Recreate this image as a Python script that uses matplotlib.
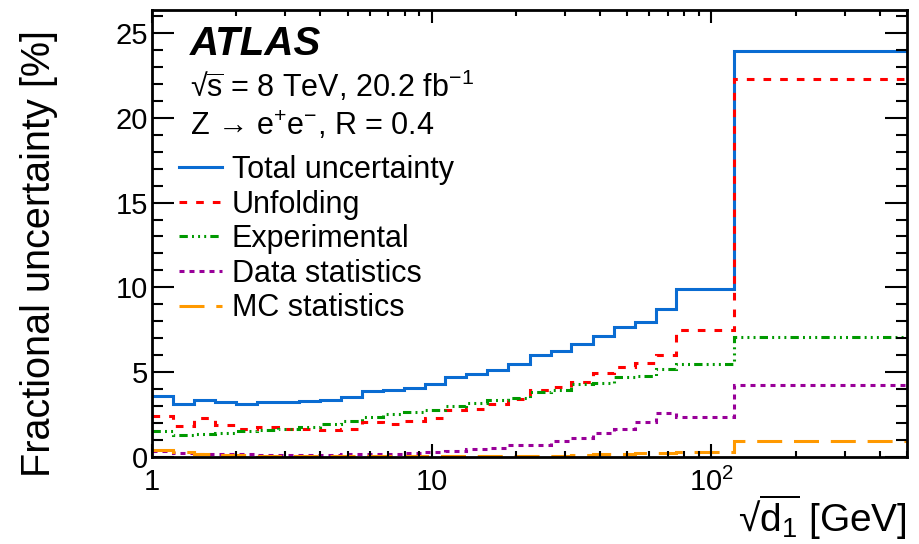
import numpy as np
import matplotlib
matplotlib.use('Agg')
import matplotlib.pyplot as plt
from matplotlib.ticker import FixedLocator, FixedFormatter, LogLocator, NullFormatter, MultipleLocator

plt.rcParams['font.family'] = ['Liberation Sans', 'DejaVu Sans']
plt.rcParams['mathtext.fontset'] = 'custom'
plt.rcParams['mathtext.rm'] = 'Liberation Sans'
plt.rcParams['mathtext.it'] = 'Liberation Sans:italic'
plt.rcParams['mathtext.bf'] = 'Liberation Sans:bold'
plt.rcParams['lines.scale_dashes'] = False

#%% data (bin edges in GeV, uncertainties in %)
edges = [1.0, 1.19, 1.41, 1.68, 2.0, 2.37, 2.82, 3.35, 3.98, 4.73, 5.62, 6.68, 7.94, 9.44,
         11.2, 13.3, 15.8, 18.8, 22.4, 26.6, 31.6, 37.6, 44.7, 53.1, 63.1, 75.0, 120.0, 500.0]
total = [3.59, 3.14, 3.39, 3.24, 3.10, 3.24, 3.26, 3.30, 3.35, 3.51, 3.87, 3.93, 4.08, 4.32,
         4.73, 4.91, 5.15, 5.50, 6.03, 6.25, 6.68, 7.13, 7.66, 7.96, 8.71, 9.89, 23.94]
unfolding = [2.41, 1.82, 2.29, 1.90, 1.66, 1.76, 1.66, 1.66, 1.62, 1.66, 2.09, 1.93, 2.10, 2.32,
             2.76, 2.84, 3.10, 3.43, 3.94, 4.12, 4.40, 4.93, 5.32, 5.56, 6.03, 7.49, 22.28]
experimental = [1.56, 1.27, 1.37, 1.43, 1.52, 1.61, 1.66, 1.76, 1.94, 2.14, 2.33, 2.55, 2.64, 2.80,
                3.03, 3.20, 3.34, 3.49, 3.83, 3.97, 4.28, 4.37, 4.71, 4.79, 5.18, 5.48, 7.07]
data_stat = [0.34, 0.25, 0.20, 0.17, 0.15, 0.14, 0.13, 0.13, 0.14, 0.15, 0.17, 0.20, 0.24, 0.29,
             0.38, 0.48, 0.54, 0.68, 0.72, 0.93, 1.13, 1.40, 1.65, 2.05, 2.61, 2.35, 4.26]
mc_stat = [0.42, 0.30, 0.15, 0.12, 0.10, 0.08, 0.07, 0.07, 0.06, 0.06, 0.05, 0.05, 0.05, 0.05,
           0.05, 0.05, 0.05, 0.06, 0.06, 0.08, 0.12, 0.15, 0.18, 0.22, 0.26, 0.28, 0.97]

labels = ['Total uncertainty', 'Unfolding', 'Experimental', 'Data statistics', 'MC statistics']
colors = ['#0a6cd2', '#ff0000', '#009900', '#990099', '#ff9900']
styles = ['-', (0, (5.5, 6.5)), (0, (6, 3, 1.4, 3, 1.4, 3, 1.4, 3)), (0, (3.6, 3.6)), (0, (18, 8.5))]

#%% plot
fig = plt.figure(figsize=(9.19, 5.44), dpi=100)
ax = fig.add_axes([0.1654, 0.1599, 0.8215, 0.8217])

handles = []
for vals, c, ls, lab in zip([total, unfolding, experimental, data_stat, mc_stat], colors, styles, labels):
    h = ax.stairs(vals, edges, baseline=None, color=c, linestyle=ls, lw=2.2, label=lab)
    handles.append(h)

ax.set_xscale('log')
ax.set_xlim(1, 500)
ax.set_ylim(0, 26.35)

### ticks in ROOT / ATLAS style
ax.xaxis.set_major_locator(FixedLocator([1, 10, 100]))
ax.xaxis.set_major_formatter(FixedFormatter(['1', '10', '$10^{2}$']))
ax.xaxis.set_minor_locator(LogLocator(base=10, subs=np.arange(2, 10)))
ax.xaxis.set_minor_formatter(NullFormatter())
ax.yaxis.set_major_locator(MultipleLocator(5))
ax.yaxis.set_minor_locator(MultipleLocator(1))
ax.tick_params(which='both', direction='in', top=True, right=True, labelsize=21, width=1.5)
ax.tick_params(axis='x', which='major', length=9.5, pad=8)
ax.tick_params(axis='x', which='minor', length=4.5)
ax.tick_params(axis='y', which='major', length=16, pad=3)
ax.tick_params(axis='y', which='minor', length=8)
for sp in ax.spines.values():
    sp.set_linewidth(2)

### labels
fig.text(0.0424, 1 - 30/544, 'Fractional uncertainty [%]', rotation=90, ha='center', va='top', fontsize=28.5)
fig.text(907/919, 1 - 532/544, '√' + r'$\overline{\mathrm{d}_{1}}$' + ' [GeV]', ha='right', va='baseline', fontsize=28)

fig.text(190/919, 1 - 55/544, 'ATLAS', fontsize=29, fontweight='bold', fontstyle='italic', va='baseline')
fig.text(190/919, 1 - 97/544, '√' + r'$\overline{\mathrm{s}}$' + ' = 8 TeV, 20.2 fb$^{\mathrm{-1}}$', fontsize=22, va='baseline')
fig.text(190/919, 1 - 135/544, 'Z → e$^{+}$e$^{-}$, R = 0.4', fontsize=22, va='baseline')

ax.legend(handles=handles, loc='upper left', bbox_to_anchor=(179/919, 1 - 155/544),
          bbox_transform=fig.transFigure, frameon=False, fontsize=22, borderpad=0, borderaxespad=0,
          handlelength=1.4, handletextpad=0.33, labelspacing=0.15)

fig.savefig('out.png', dpi=100)
